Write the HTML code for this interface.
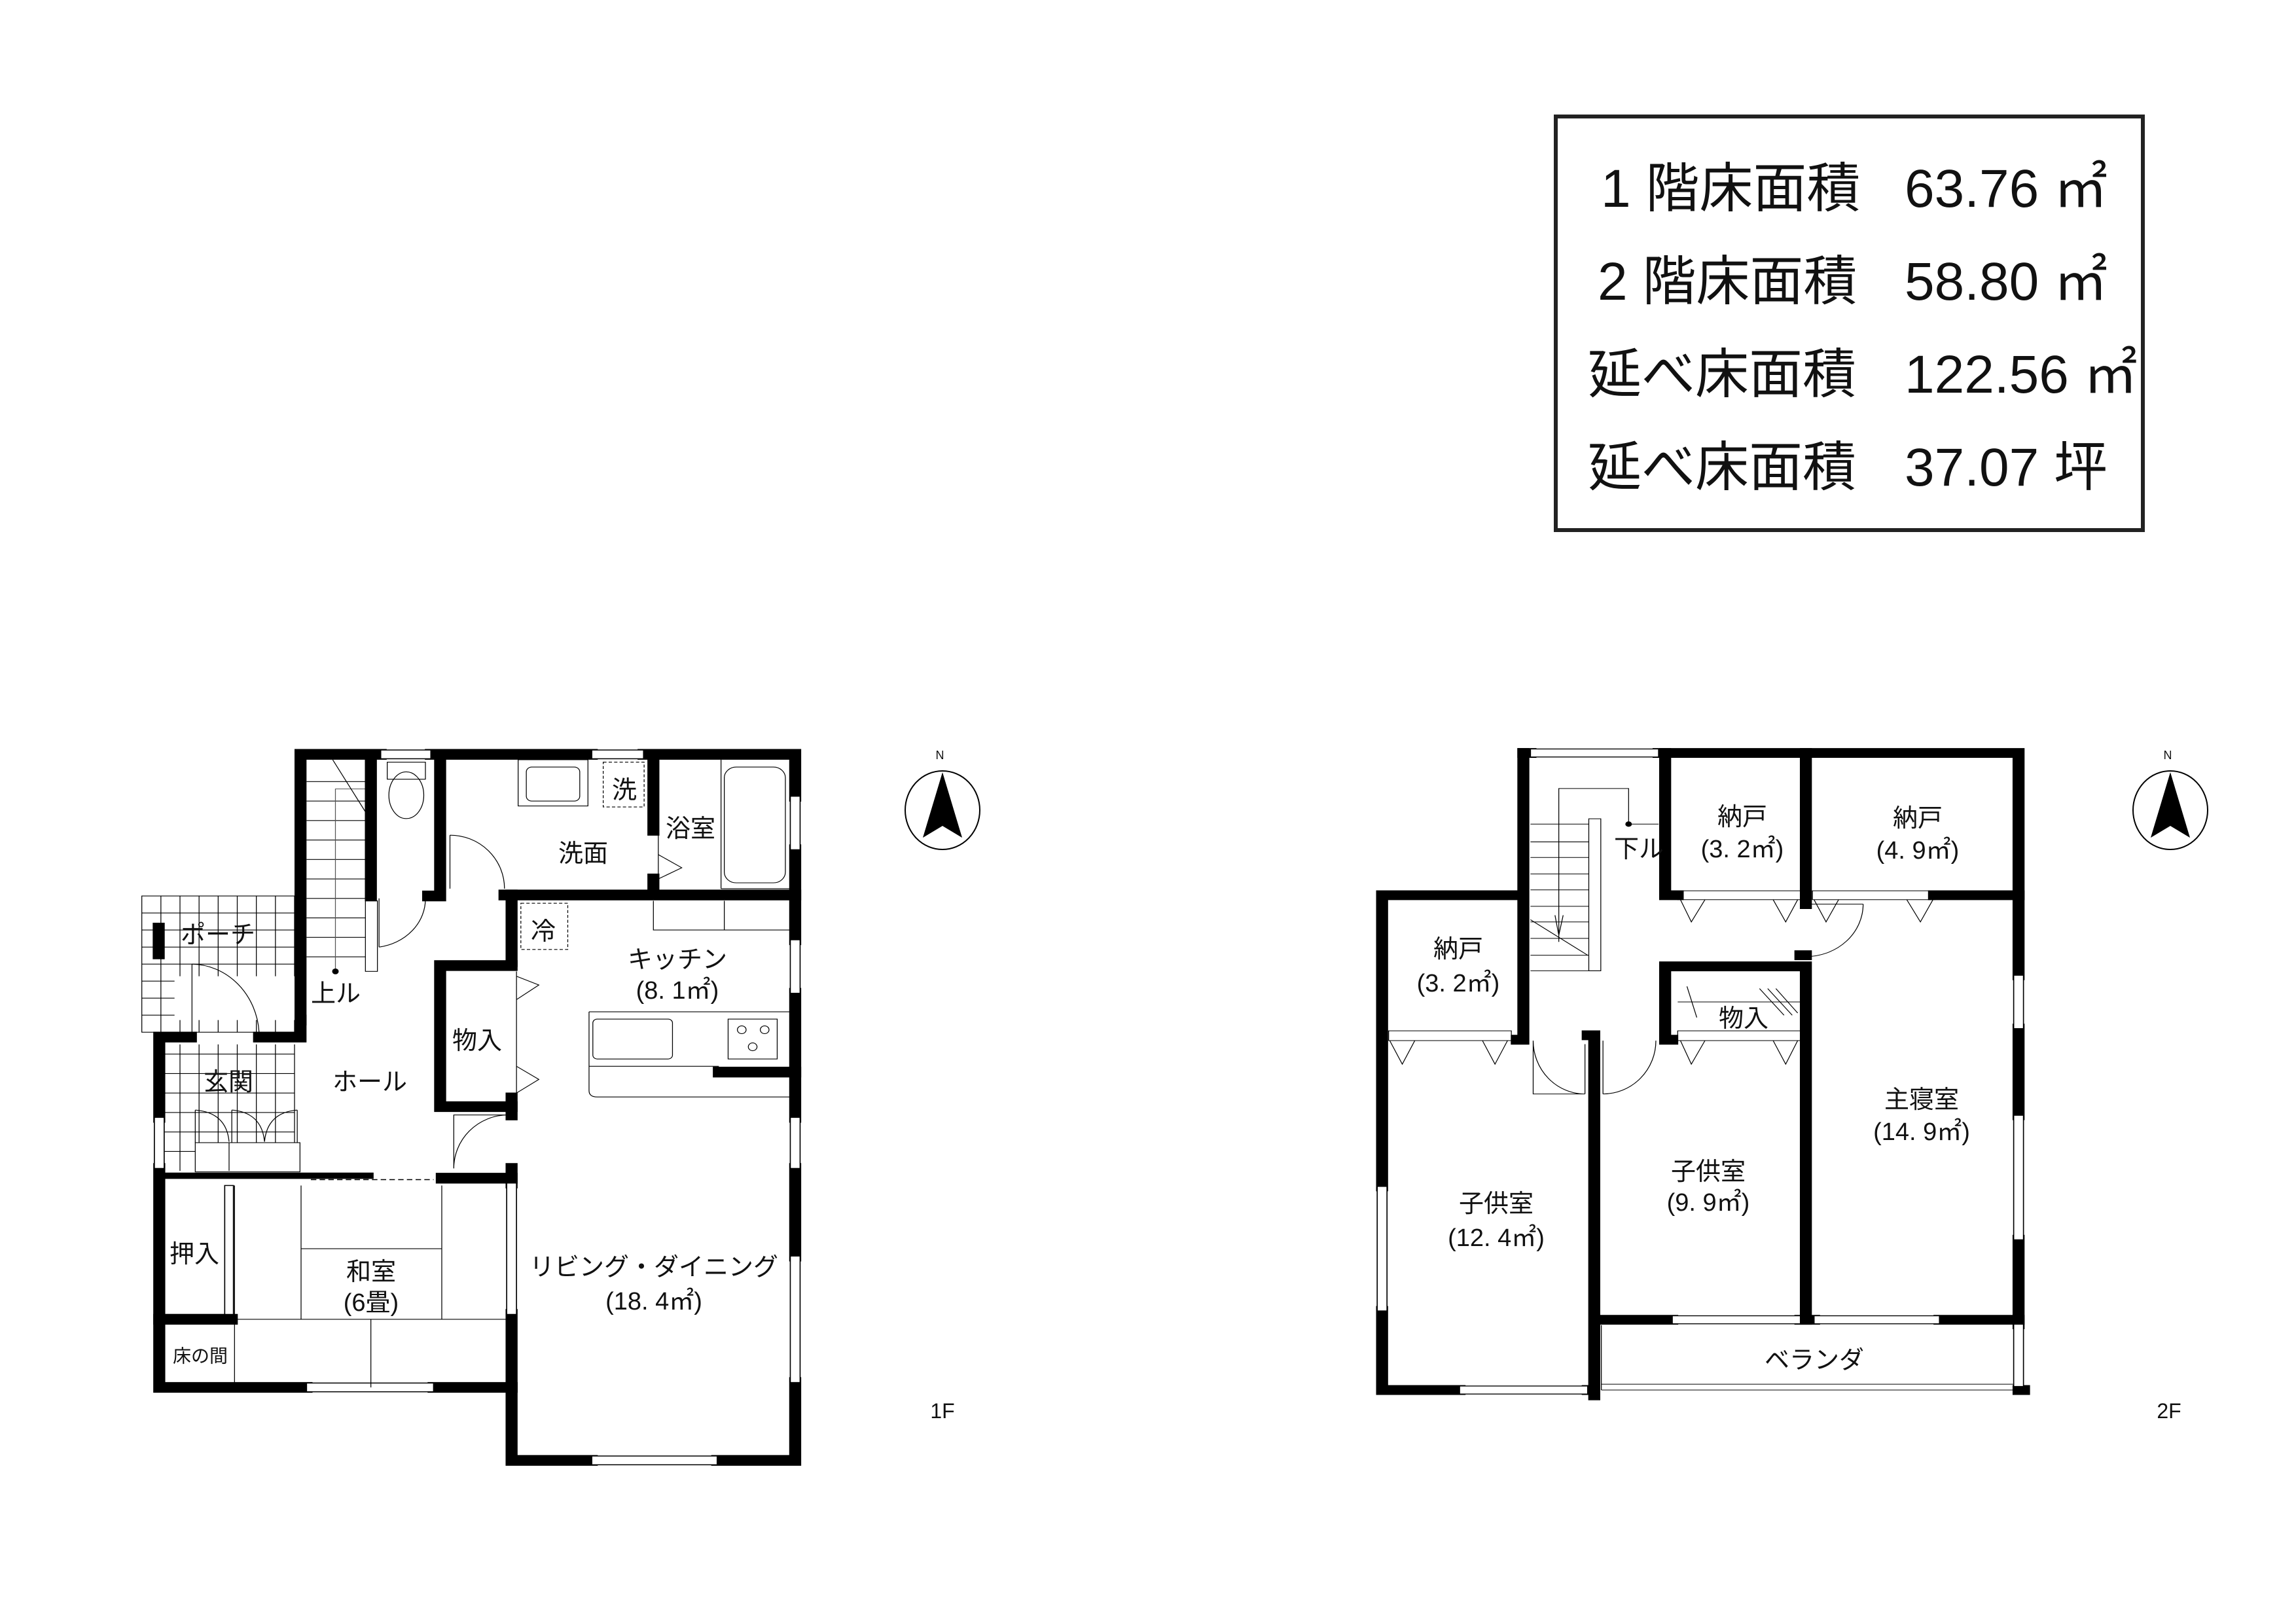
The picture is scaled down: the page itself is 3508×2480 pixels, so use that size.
<!DOCTYPE html>
<html><head><meta charset="utf-8"><style>
html,body{margin:0;padding:0;background:#fff}
svg{display:block}
text{font-family:"Liberation Sans","Noto Sans CJK JP",sans-serif;fill:#111}
</style></head><body>
<svg width="3508" height="2480" viewBox="0 0 3508 2480" xmlns="http://www.w3.org/2000/svg">
<rect x="0" y="0" width="3508" height="2480" fill="#fff"/>

<!-- Area table -->
<rect x="2393" y="178" width="897" height="632" fill="none" stroke="#222" stroke-width="6" transform="translate(-16,0)"/>
<g font-size="82" style="font-family:'Liberation Sans','Noto Sans CJK JP',sans-serif">
<text x="2446" y="316">1 階床面積</text><text x="2910" y="316">63.76 ㎡</text>
<text x="2441" y="458">2 階床面積</text><text x="2910" y="458">58.80 ㎡</text>
<text x="2426" y="600">延べ床面積</text><text x="2910" y="600">122.56 ㎡</text>
<text x="2426" y="742">延べ床面積</text><text x="2910" y="742">37.07 坪</text>
</g>

<!-- ================= 1F ================= -->
<g transform="translate(200,1120) scale(0.8333,0.7435)">
 <g stroke="#000" stroke-width="1.5" fill="none">
  <rect x="20" y="335" width="280" height="280"/>
  <path d="M55 335V615M90 335V615M125 335V615M160 335V615M195 335V615M230 335V615M265 335V615
           M20 370H300M20 405H300M20 440H300M20 475H300M20 510H300M20 545H300M20 580H300"/>
  <path d="M62 660H300M62 700H300M62 740H300M62 780H300M62 820H300M62 860H300
           M90 640V900M125 640V900M160 640V900M195 640V900M230 640V900M265 640V900M300 640V900"/>
  <rect x="118" y="842" width="192" height="60" fill="#fff"/>
 </g>
 <rect x="80" y="500" width="230" height="90" fill="#fff"/>
 <rect x="40" y="390" width="22" height="75" fill="#000"/>
 <g stroke="#000" stroke-width="1.5" fill="none">
  <path d="M322 100H430M322 140H430M322 180H430M322 220H430M322 260H430M322 300H430M322 340H430M322 380H430M322 420H430M322 460H430"/>
  <path d="M375 490V115H440" stroke="#555"/>
  <rect x="430" y="345" width="22" height="145"/>
  <path d="M370 55L440 180"/>
 </g>
 <circle cx="375" cy="490" r="6" fill="#000"/>
 <g stroke="#000" stroke-width="22" fill="none" stroke-linecap="square">
  <path d="M311 590V44H458M550 44H845M940 44H1218V130M1218 240V425M1218 535V790M1218 895V1075M1218 1335V1495H1075M845 1495H698V1345"/>
  <path d="M698 1345H555M322 1345H52V895M52 790V625H110M235 625H311V590"/>
  <path d="M440 50V335M567 50V335H545M958 50V200M958 300V333M685 333H1218"/>
  <path d="M698 333V470M698 750V785M698 895V925M698 1195V1345"/>
  <path d="M567 478V768H698M567 478H698"/>
  <path d="M1078 697H1218"/>
  <path d="M570 915H698"/>
  <path d="M52 1205H185"/>
 </g>
 <path d="M52 910H445" stroke="#000" stroke-width="13"/>
 <path d="M330 918H555" stroke="#000" stroke-width="2" stroke-dasharray="10 6"/>
 <g stroke="#000" stroke-width="2" fill="#fff">
  <rect x="458" y="35" width="92" height="18"/><rect x="845" y="35" width="95" height="18"/>
  <rect x="1209" y="130" width="18" height="110"/><rect x="1209" y="425" width="18" height="110"/>
  <rect x="1209" y="790" width="18" height="105"/><rect x="1209" y="1075" width="18" height="260"/>
  <rect x="845" y="1486" width="230" height="18"/><rect x="322" y="1336" width="233" height="18"/>
  <rect x="43" y="790" width="18" height="105"/>
  <rect x="689" y="925" width="18" height="270"/>
  <rect x="172" y="930" width="16" height="265"/>
 </g>
 <g stroke="#000" stroke-width="1.5" fill="none">
  <path d="M585 210V320M585 210A100 110 0 0 1 685 320"/>
  <path d="M455 440V340M455 440A100 100 0 0 0 540 340"/>
  <path d="M112 475V625M112 475A125 150 0 0 1 235 615"/>
  <path d="M592 895V785H690M592 895A100 110 0 0 1 690 785"/>
  <path d="M967 250L1010 277L967 300M967 210V310"/>
  <path d="M707 490V745M707 500L748 518L707 548M707 685L748 712L707 740"/>
  <rect x="470" y="60" width="70" height="35"/><ellipse cx="505" cy="128" rx="32" ry="48"/>
  <rect x="710" y="55" width="128" height="95"/><rect x="725" y="70" width="98" height="70" rx="10"/>
  <rect x="866" y="60" width="75" height="92" stroke-dasharray="6 4"/>
  <rect x="715" y="350" width="86" height="95" stroke-dasharray="6 4"/>
  <path d="M1082 55V320M1082 320H1208"/><rect x="1088" y="70" width="112" height="238" rx="22"/>
  <path d="M958 345V405H1208M1088 345V405"/>
  <path d="M840 573H1208M840 573V735Q840 748 855 748H1208M840 685H1078"/>
  <rect x="847" y="588" width="146" height="82" rx="8"/><rect x="1095" y="588" width="90" height="82"/>
  <circle cx="1120" cy="610" r="8"/><circle cx="1162" cy="610" r="8"/><circle cx="1140" cy="645" r="8"/>
  <path d="M118 775V842M118 775Q175 780 180 840M185 775V842M185 775Q240 780 245 840M305 775V842M305 775Q250 780 245 840M180 842V900"/>
  <path d="M312 930V1205M312 1060H570M570 930V1205M190 1205H698M190 930V1345M440 1205V1345"/>
  <path d="M62 1195H172"/>
 </g>
</g>
<g font-size="38">
 <text x="333" y="1429" text-anchor="middle" dominant-baseline="central">ポーチ</text>
 <text x="513" y="1519" text-anchor="middle" dominant-baseline="central">上ル</text>
 <text x="349" y="1654" text-anchor="middle" dominant-baseline="central">玄関</text>
 <text x="565" y="1654" text-anchor="middle" dominant-baseline="central">ホール</text>
 <text x="729" y="1591" text-anchor="middle" dominant-baseline="central">物入</text>
 <text x="891" y="1305" text-anchor="middle" dominant-baseline="central">洗面</text>
 <text x="1055" y="1267" text-anchor="middle" dominant-baseline="central">浴室</text>
 <text x="954" y="1208" text-anchor="middle" dominant-baseline="central">洗</text>
 <text x="830" y="1424" text-anchor="middle" dominant-baseline="central">冷</text>
 <text x="1035" y="1467" text-anchor="middle" dominant-baseline="central">キッチン</text>
 <text x="1035" y="1514" text-anchor="middle" dominant-baseline="central">(8. 1㎡)</text>
 <text x="297" y="1917" text-anchor="middle" dominant-baseline="central">押入</text>
 <text x="567" y="1944" text-anchor="middle" dominant-baseline="central">和室</text>
 <text x="567" y="1991" text-anchor="middle" dominant-baseline="central">(6畳)</text>
 <text x="306" y="2072" text-anchor="middle" dominant-baseline="central" font-size="28">床の間</text>
 <text x="999" y="1937" text-anchor="middle" dominant-baseline="central">リビング・ダイニング</text>
 <text x="999" y="1989" text-anchor="middle" dominant-baseline="central">(18. 4㎡)</text>
 <text x="1440" y="2156" text-anchor="middle" dominant-baseline="central" font-size="32">1F</text>
</g>
<g>
 <ellipse cx="1440" cy="1238" rx="57" ry="60" fill="none" stroke="#000" stroke-width="2"/>
 <path d="M1440 1180L1410 1280L1440 1262L1470 1280Z" fill="#000"/>
 <text x="1436" y="1160" font-size="18" text-anchor="middle">N</text>
</g>

<!-- ================= 2F ================= -->
<g transform="translate(2080,1120) scale(0.8333,0.6793)">
 <g stroke="#000" stroke-width="1.5" fill="none">
  <path d="M310 205H417M310 245H417M310 280H417M310 317H417M310 353H417M310 390H417M310 425H417M310 462H417M310 500H417"/>
  <rect x="417" y="193" width="22" height="342"/>
  <path d="M310 535H439M310 420L415 500"/>
  <path d="M362 470V125H490V205M490 205H545"/>
  <path d="M355 410L362 455L370 410"/>
 </g>
 <circle cx="490" cy="205" r="6" fill="#000"/>
 <g stroke="#000" stroke-width="22" fill="none" stroke-linecap="square">
  <path d="M297 45V690H285M297 365H38V1020M38 1300V1478H180M415 1478H427"/>
  <path d="M297 45H310M545 45H1205V545M1205 665V860M1205 1140V1330"/>
  <path d="M557 45V365H580M815 45V385M1050 365H1205"/>
  <path d="M427 680V1490M427 680H415"/>
  <path d="M557 525V690H570M557 525H815V1320M815 500H805"/>
  <path d="M440 1320H570M805 1320H830M1060 1320H1205"/>
  <path d="M1205 1478H1215"/>
 </g>
 <g stroke="#000" stroke-width="2" fill="#fff">
  <rect x="310" y="36" width="235" height="18"/>
  <rect x="29" y="1020" width="18" height="280"/>
  <rect x="180" y="1469" width="235" height="18"/>
  <rect x="1196" y="545" width="18" height="120"/>
  <rect x="1196" y="860" width="18" height="280"/>
  <rect x="570" y="1311" width="235" height="18"/><rect x="830" y="1311" width="230" height="18"/>
  <rect x="1196" y="1330" width="18" height="140"/>
 </g>
 <g stroke="#000" stroke-width="1.5" fill="none">
  <path d="M440 1332V1478M440 1465H1196M440 1478H1196"/>
  <rect x="580" y="355" width="225" height="20"/><rect x="827" y="355" width="225" height="20"/>
  <path d="M585 375L605 425L630 375M755 375L778 425L800 375M830 375L852 425L875 375M1000 375L1025 425L1048 375"/>
  <rect x="50" y="670" width="225" height="22"/>
  <path d="M52 692L75 745L98 692M222 692L245 745L268 692"/>
  <rect x="580" y="670" width="225" height="22"/>
  <path d="M585 692L605 745L630 692M755 692L778 745L800 692"/>
  <path d="M580 605H805M597 570L615 640M730 575L775 635M745 575L790 635M760 575L800 630"/>
  <path d="M815 385H920M920 385A105 118 0 0 1 815 503"/>
  <path d="M315 692V812H410M315 692A95 120 0 0 0 410 812"/>
  <path d="M443 692V812M540 692A97 120 0 0 1 443 812"/>
  <path d="M410 700V812"/>
 </g>
</g>
<g font-size="38">
 <text x="2504" y="1298" text-anchor="middle" dominant-baseline="central">下ル</text>
 <text x="2662" y="1249" text-anchor="middle" dominant-baseline="central">納戸</text>
 <text x="2662" y="1298" text-anchor="middle" dominant-baseline="central">(3. 2㎡)</text>
 <text x="2930" y="1251" text-anchor="middle" dominant-baseline="central">納戸</text>
 <text x="2930" y="1300" text-anchor="middle" dominant-baseline="central">(4. 9㎡)</text>
 <text x="2228" y="1451" text-anchor="middle" dominant-baseline="central">納戸</text>
 <text x="2228" y="1503" text-anchor="middle" dominant-baseline="central">(3. 2㎡)</text>
 <text x="2664" y="1557" text-anchor="middle" dominant-baseline="central">物入</text>
 <text x="2936" y="1681" text-anchor="middle" dominant-baseline="central">主寝室</text>
 <text x="2936" y="1730" text-anchor="middle" dominant-baseline="central">(14. 9㎡)</text>
 <text x="2610" y="1791" text-anchor="middle" dominant-baseline="central">子供室</text>
 <text x="2610" y="1838" text-anchor="middle" dominant-baseline="central">(9. 9㎡)</text>
 <text x="2286" y="1840" text-anchor="middle" dominant-baseline="central">子供室</text>
 <text x="2286" y="1892" text-anchor="middle" dominant-baseline="central">(12. 4㎡)</text>
 <text x="2772" y="2079" text-anchor="middle" dominant-baseline="central">ベランダ</text>
 <text x="3314" y="2156" text-anchor="middle" dominant-baseline="central" font-size="32">2F</text>
</g>
<g>
 <ellipse cx="3316" cy="1238" rx="57" ry="60" fill="none" stroke="#000" stroke-width="2"/>
 <path d="M3316 1180L3286 1280L3316 1262L3346 1280Z" fill="#000"/>
 <text x="3312" y="1160" font-size="18" text-anchor="middle">N</text>
</g>
</svg>
</body></html>
